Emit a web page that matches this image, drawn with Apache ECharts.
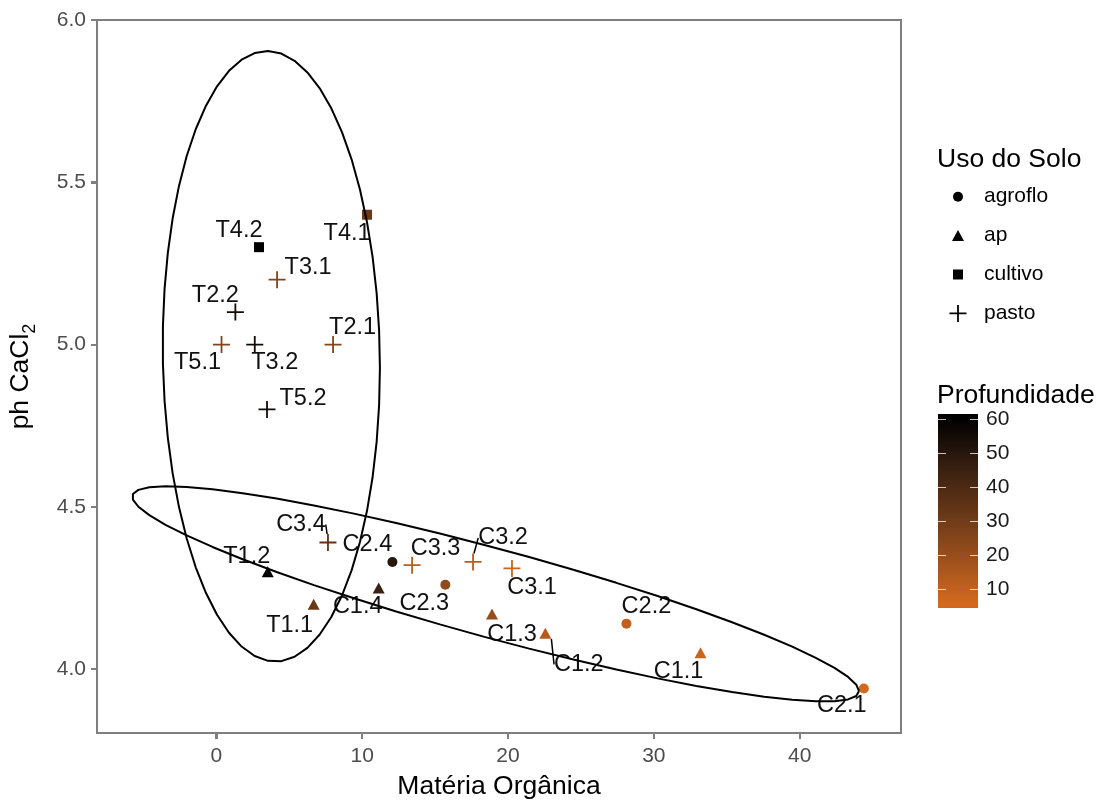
<!DOCTYPE html>
<html lang="pt">
<head>
    <meta charset="UTF-8">
    <title>ph CaCl2 x Matéria Orgânica</title>
    <script src="https://cdn.jsdelivr.net/npm/echarts@6/dist/echarts.min.js"></script>
    <style>
        html, body { margin: 0; padding: 0; background: #fff; }
        #main { width: 1099px; height: 802px; }
    </style>
</head>
<body>
<div id="main"></div>
<script type="text/javascript">
    // dados das amostras
    var amostras = ['T1.1', 'T1.2', 'T2.1', 'T2.2', 'T3.1', 'T3.2', 'T4.1', 'T4.2', 'T5.1', 'T5.2',
        'C1.1', 'C1.2', 'C1.3', 'C1.4', 'C2.1', 'C2.2', 'C2.3', 'C2.4', 'C3.1', 'C3.2', 'C3.3', 'C3.4'];
    var grupo = ['T', 'T', 'T', 'T', 'T', 'T', 'T', 'T', 'T', 'T',
        'C', 'C', 'C', 'C', 'C', 'C', 'C', 'C', 'C', 'C', 'C', 'C'];
    var materiaOrganica = [6.67, 3.52, 8.00, 1.30, 4.16, 2.63, 10.33, 2.92, 0.35, 3.47,
        33.2, 22.56, 18.9, 11.13, 44.4, 28.12, 15.7, 12.07, 20.27, 17.6, 13.42, 7.65];
    var phCaCl2 = [4.2, 4.3, 5.0, 5.1, 5.2, 5.0, 5.4, 5.3, 5.0, 4.8,
        4.05, 4.11, 4.17, 4.25, 3.94, 4.14, 4.26, 4.33, 4.31, 4.33, 4.32, 4.39];
    var profundidade = [32, 60, 25, 55, 25, 55, 32, 60, 25, 55,
        8, 13, 20, 45, 6, 10, 22, 50, 8, 12, 12, 35];
    var usoSolo = ['ap', 'ap', 'pasto', 'pasto', 'pasto', 'pasto', 'cultivo', 'cultivo', 'pasto', 'pasto',
        'ap', 'ap', 'ap', 'ap', 'agroflo', 'agroflo', 'agroflo', 'agroflo', 'pasto', 'pasto', 'pasto', 'pasto'];
    var usoNiveis = ['agroflo', 'ap', 'cultivo', 'pasto'];
    var ticksX = [0, 10, 20, 30, 40];
    var ticksY = [4.0, 4.5, 5.0, 5.5, 6.0];
    var ticksProfundidade = [10, 20, 30, 40, 50, 60];

    // aparência
    var fonte = '"Liberation Sans", Arial, Helvetica, sans-serif';
    var cinza = '#7f7f7f';
    var paleta = ['#D2691E', '#9A4F1C', '#653617', '#351E10', '#000000'];
    var simbolos = {
        agroflo: {symbol: 'circle', size: 10},
        ap: {symbol: 'triangle', size: [12, 11]},
        cultivo: {symbol: 'rect', size: 10},
        pasto: {symbol: 'path://M0,7.6H17V9.4H0Z M7.6,0H9.4V17H7.6Z', size: 17}
    };
    // posicao dos rotulos (tipo ggrepel), em pixels relativos ao ponto
    var deslocRotulo = {
        'T1.1': [-24, 21], 'T1.2': [-21, -15], 'T2.1': [19.5, -17], 'T2.2': [-20, -17], 'T3.1': [31, -12],
        'T3.2': [20, 18], 'T4.1': [-20, 19], 'T4.2': [-20, -17], 'T5.1': [-24, 18], 'T5.2': [36, -11],
        'C1.1': [-22, 19], 'C1.2': [33.5, 31], 'C1.3': [20, 21], 'C1.4': [-21, 19], 'C2.1': [-22, 17],
        'C2.2': [20, -17], 'C2.3': [-21, 19], 'C2.4': [-25, -17], 'C3.1': [20, 19], 'C3.2': [30, -24],
        'C3.3': [23.5, -17], 'C3.4': [-27, -18]
    };
    var rotulosComLinha = ['C3.4', 'C3.2', 'C1.2'];

    var minProf = Math.min.apply(null, profundidade);
    var maxProf = Math.max.apply(null, profundidade);

    // elipse t (como stat_ellipse do ggplot: cov.trob + F)
    function elipse(xs, ys, nivel, segmentos) {
        var n = xs.length, nu = 5, p = 2, i;
        var w = xs.map(function () { return 1; });
        var cx = 0, cy = 0;
        for (i = 0; i < n; i++) { cx += xs[i] / n; cy += ys[i] / n; }
        var dx = [], dy = [];
        for (var it = 0; it < 25; it++) {
            var w0 = w.slice();
            var sw = 0, sxx = 0, sxy = 0, syy = 0;
            for (i = 0; i < n; i++) {
                dx[i] = xs[i] - cx; dy[i] = ys[i] - cy;
                sw += w[i];
                sxx += w[i] * dx[i] * dx[i]; sxy += w[i] * dx[i] * dy[i]; syy += w[i] * dy[i] * dy[i];
            }
            sxx /= sw; sxy /= sw; syy /= sw;
            var det = sxx * syy - sxy * sxy;
            for (i = 0; i < n; i++) {
                var q = (syy * dx[i] * dx[i] - 2 * sxy * dx[i] * dy[i] + sxx * dy[i] * dy[i]) / det;
                w[i] = (nu + p) / (nu + q);
            }
            var sw2 = 0, mx = 0, my = 0;
            for (i = 0; i < n; i++) { sw2 += w[i]; mx += w[i] * xs[i]; my += w[i] * ys[i]; }
            cx = mx / sw2; cy = my / sw2;
            var fim = true;
            for (i = 0; i < n; i++) { if (Math.abs(w[i] - w0[i]) >= 0.01) fim = false; }
            if (fim) break;
        }
        var cxx = 0, cxy = 0, cyy = 0;
        for (i = 0; i < n; i++) {
            cxx += w[i] * dx[i] * dx[i] / n; cxy += w[i] * dx[i] * dy[i] / n; cyy += w[i] * dy[i] * dy[i] / n;
        }
        var r11 = Math.sqrt(cxx), r12 = cxy / r11, r22 = Math.sqrt(cyy - r12 * r12);
        var dfd = n - 1;
        var f = dfd / 2 * (Math.pow(1 - nivel, -2 / dfd) - 1);
        var raio = Math.sqrt(2 * f);
        var pts = [];
        for (var k = 0; k <= segmentos; k++) {
            var a = 2 * Math.PI * k / segmentos;
            pts.push([cx + raio * Math.cos(a) * r11,
                cy + raio * (Math.cos(a) * r12 + Math.sin(a) * r22)]);
        }
        return pts;
    }

    var series = [];
    ['T', 'C'].forEach(function (g) {
        var xs = [], ys = [];
        amostras.forEach(function (a, i) {
            if (grupo[i] === g) { xs.push(materiaOrganica[i]); ys.push(phCaCl2[i]); }
        });
        series.push({
            type: 'line',
            name: 'elipse ' + g,
            data: elipse(xs, ys, 0.95, 51),
            showSymbol: false,
            symbol: 'none',
            silent: true,
            lineStyle: {color: '#000', width: 2}
        });
    });

    usoNiveis.forEach(function (uso) {
        var dados = [];
        amostras.forEach(function (a, i) {
            if (usoSolo[i] !== uso) return;
            var item = {name: a, value: [materiaOrganica[i], phCaCl2[i], profundidade[i]]};
            if (rotulosComLinha.indexOf(a) >= 0) item.labelLine = {show: true};
            dados.push(item);
        });
        series.push({
            type: 'scatter',
            name: uso,
            symbol: simbolos[uso].symbol,
            symbolSize: simbolos[uso].size,
            data: dados,
            itemStyle: {color: '#000', opacity: 1},
            label: {
                show: true,
                position: 'inside',
                formatter: '{b}',
                fontSize: 23.5,
                fontFamily: fonte,
                color: '#111'
            },
            labelLine: {show: false, lineStyle: {color: '#000', width: 1.5}},
            labelLayout: function (p) {
                var d = deslocRotulo[p.text] || [0, 0];
                return {dx: d[0], dy: d[1]};
            },
            emphasis: {disabled: true}
        });
    });

    // legenda de forma: uma legenda por item para respeitar o tamanho de cada simbolo
    var legendas = usoNiveis.map(function (uso, i) {
        var s = simbolos[uso];
        var w = Array.isArray(s.size) ? s.size[0] : s.size;
        var h = Array.isArray(s.size) ? s.size[1] : s.size;
        var cy = 196.7 + i * 38.9;
        return {
            orient: 'horizontal',
            left: 958 - w / 2,
            top: cy - 10.5,
            padding: 0,
            itemWidth: w,
            itemHeight: h,
            selectedMode: false,
            data: [{name: uso, icon: s.symbol, itemStyle: {color: '#000'}}],
            textStyle: {fontSize: 21, fontFamily: fonte, color: '#000', padding: [0, 0, 0, 984 - (958 + w / 2 + 5)]}
        };
    });

    // barra de cor da profundidade
    var barra = {x: 938, y: 414, w: 40, h: 194};
    function yBarra(v) {
        return barra.y + barra.h - (0.025 + 0.95 * (v - minProf) / (maxProf - minProf)) * barra.h;
    }
    var paradas = [];
    paleta.slice().reverse().forEach(function (c, k) {
        paradas.push({offset: 0.025 + 0.95 * k / (paleta.length - 1), color: c});
    });
    paradas.unshift({offset: 0, color: paleta[paleta.length - 1]});
    paradas.push({offset: 1, color: paleta[0]});
    var graficos = [{
        type: 'rect',
        shape: {x: barra.x, y: barra.y, width: barra.w, height: barra.h},
        style: {fill: new echarts.graphic.LinearGradient(0, 0, 0, 1, paradas)}
    }];
    ticksProfundidade.forEach(function (v) {
        var y = Math.round(yBarra(v)) + 0.5;
        graficos.push({type: 'line', shape: {x1: barra.x, y1: y, x2: barra.x + 8, y2: y},
            style: {stroke: 'rgba(255,255,255,0.75)', lineWidth: 1}});
        graficos.push({type: 'line', shape: {x1: barra.x + barra.w - 8, y1: y, x2: barra.x + barra.w, y2: y},
            style: {stroke: 'rgba(255,255,255,0.75)', lineWidth: 1}});
        graficos.push({type: 'text', x: 986, y: yBarra(v),
            style: {text: String(v), fontSize: 21, fontFamily: fonte, fill: '#1a1a1a', align: 'left', verticalAlign: 'middle'}});
    });

    var myChart = echarts.init(document.getElementById('main'));
    var option = {
        animation: false,
        backgroundColor: '#fff',
        textStyle: {fontFamily: fonte},
        title: [
            {text: 'Uso do Solo', left: 937, top: 146, padding: 0,
                textStyle: {fontSize: 26.5, fontWeight: 'normal', color: '#000', fontFamily: fonte}},
            {text: 'Profundidade', left: 937, top: 382, padding: 0,
                textStyle: {fontSize: 26.5, fontWeight: 'normal', color: '#000', fontFamily: fonte}}
        ],
        legend: legendas,
        grid: {left: 97, top: 20, width: 804, height: 713, outerBoundsMode: 'none', containLabel: false,
            show: true, borderColor: cinza, borderWidth: 2},
        xAxis: {
            type: 'value',
            position: 'bottom',
            min: -8.19,
            max: 46.95,
            splitLine: {show: false},
            axisLine: {show: true, onZero: false, lineStyle: {color: cinza, width: 2}},
            axisTick: {show: true, inside: false, length: 6, customValues: ticksX, lineStyle: {color: cinza, width: 2}},
            axisLabel: {customValues: ticksX, margin: 13, fontSize: 21, color: '#4d4d4d', fontFamily: fonte},
            name: 'Matéria Orgânica',
            nameLocation: 'middle',
            nameGap: 40,
            nameTextStyle: {fontSize: 26.5, color: '#000', fontFamily: fonte}
        },
        yAxis: {
            type: 'value',
            position: 'left',
            min: 3.803,
            max: 6.0,
            splitLine: {show: false},
            axisLine: {show: true, onZero: false, lineStyle: {color: cinza, width: 2}},
            axisTick: {show: true, inside: false, length: 6, customValues: ticksY, lineStyle: {color: cinza, width: 2}},
            axisLabel: {customValues: ticksY, margin: 11, fontSize: 21, color: '#4d4d4d', fontFamily: fonte,
                formatter: function (v) { return v.toFixed(1); }},
            name: 'ph CaCl{sub|2}',
            nameLocation: 'middle',
            nameGap: 58,
            nameTextStyle: {
                fontSize: 26.5, color: '#000', fontFamily: fonte, lineHeight: 36,
                rich: {sub: {fontSize: 18, lineHeight: 16, verticalAlign: 'bottom', fontFamily: fonte, color: '#000'}}
            }
        },
        visualMap: {
            show: false,
            type: 'continuous',
            min: minProf,
            max: maxProf,
            dimension: 2,
            seriesIndex: [2, 3, 4, 5],
            inRange: {color: paleta}
        },
        graphic: graficos,
        series: series
    };
    myChart.setOption(option);

    // marcas dos eixos desenhadas a partir das escalas dos eixos
    var x0 = myChart.convertToPixel({xAxisIndex: 0}, option.xAxis.min);
    var yBase = myChart.convertToPixel({yAxisIndex: 0}, option.yAxis.min);
    ticksX.forEach(function (v) {
        var px = Math.round(myChart.convertToPixel({xAxisIndex: 0}, v));
        graficos.push({type: 'line', z: 10, shape: {x1: px, y1: yBase, x2: px, y2: yBase + 6},
            style: {stroke: cinza, lineWidth: 2}});
    });
    ticksY.forEach(function (v) {
        var py = Math.round(myChart.convertToPixel({yAxisIndex: 0}, v));
        graficos.push({type: 'line', z: 10, shape: {x1: x0 - 6, y1: py, x2: x0, y2: py},
            style: {stroke: cinza, lineWidth: 2}});
    });
    myChart.setOption({graphic: graficos});
</script>
</body>
</html>
